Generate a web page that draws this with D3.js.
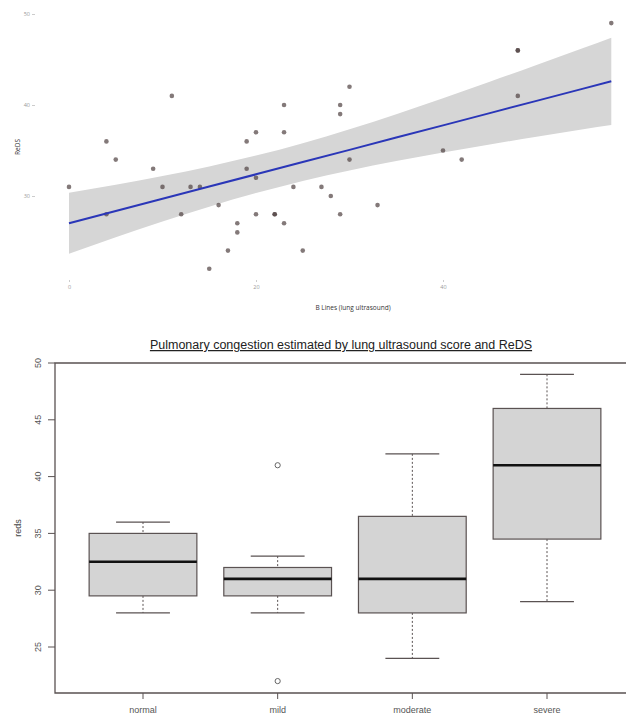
<!DOCTYPE html>
<html><head><meta charset="utf-8">
<script src="https://cdn.jsdelivr.net/npm/d3@7"></script>
<style>body{margin:0;background:#fff}svg{display:block}</style>
</head><body>
<svg id="c" width="626" height="717"></svg>
<script>
// ---- Scatter data (B lines vs ReDS) ----
const bLines = [0,4,5,4,9,11,10,12,13,14,16,15,17,18,18,19,19,20,20,20,22,22,23,23,23,24,25,27,28,29,29,29,30,30,33,40,42,48,48,48,58];
const reds   = [31,36,34,28,33,41,31,28,31,31,29,22,24,27,26,36,33,37,32,28,28,28,40,37,27,31,24,31,30,28,40,39,42,34,29,35,34,46,46,41,49];
// fitted line and 95% band
const fitX    = [0,5,10,15,20,25,30,35,40,45,50,55,58];
const fitY    = [27.0,28.35,29.69,31.04,32.38,33.73,35.07,36.42,37.76,39.11,40.45,41.8,42.6];
const bandLow = [23.65,25.46,27.19,28.83,30.32,31.66,32.81,33.85,34.78,35.67,36.51,37.33,37.8];
const bandHigh= [30.35,31.24,32.19,33.25,34.44,35.8,37.33,38.99,40.74,42.55,44.39,46.27,47.4];
const xTicksTop = [0,20,40];
const yTicksTop = [30,40,50];

// ---- Boxplot data ----
const categories = ["normal","mild","moderate","severe"];
const whiskLow  = [28,28,24,29];
const q1        = [29.5,29.5,28,34.5];
const median    = [32.5,31,31,41];
const q3        = [35,32,36.5,46];
const whiskHigh = [36,33,42,49];
const outliers  = [[],[41,22],[],[]];
const yTicksBox = [25,30,35,40,45,50];

const svg = d3.select("#c");

// ===== Top scatter =====
const xS = d3.scaleLinear().domain([0,40]).range([69,443]);
const yS = d3.scaleLinear().domain([30,50]).range([196,14]);
const gTop = svg.append("g");

const bandData = fitX.map((x,i)=>({x, lo:bandLow[i], hi:bandHigh[i], y:fitY[i]}));
gTop.append("path").datum(bandData)
  .attr("d", d3.area().x(d=>xS(d.x)).y0(d=>yS(d.lo)).y1(d=>yS(d.hi)).curve(d3.curveMonotoneX))
  .attr("fill","#d6d6d6");

gTop.selectAll("circle.pt").data(bLines.map((x,i)=>({x, y:reds[i]})))
  .enter().append("circle").attr("class","pt")
  .attr("cx",d=>xS(d.x)).attr("cy",d=>yS(d.y)).attr("r",2.3)
  .attr("fill","#4f4040").attr("opacity",0.7);

gTop.append("path").datum(bandData)
  .attr("d", d3.line().x(d=>xS(d.x)).y(d=>yS(d.y)))
  .attr("fill","none").attr("stroke","#2a36b8").attr("stroke-width",2);

// axes top
const xAxTop = d3.axisBottom(xS).tickValues(xTicksTop).tickSize(2).tickPadding(3);
gTop.append("g").attr("transform","translate(0,280)").call(xAxTop)
  .call(g=>g.select(".domain").remove())
  .call(g=>g.selectAll("text").attr("fill","#999").style("font","5.5px 'Open Sans'"))
  .call(g=>g.selectAll("line").attr("stroke","#ccc"));
const yAxTop = d3.axisLeft(yS).tickValues(yTicksTop).tickSize(3).tickPadding(2);
gTop.append("g").attr("transform","translate(35,0)").call(yAxTop)
  .call(g=>g.select(".domain").remove())
  .call(g=>g.selectAll("text").attr("fill","#999").style("font","5.5px 'Open Sans'"))
  .call(g=>g.selectAll("line").attr("stroke","#ccc"));

svg.append("text").attr("x",353).attr("y",310).attr("text-anchor","middle")
  .style("font","6.5px 'Open Sans'").attr("fill","#333").text("B Lines (lung ultrasound)");
svg.append("text").attr("transform","translate(20,147) rotate(-90)").attr("text-anchor","middle")
  .style("font","6.5px 'Open Sans'").attr("fill","#333").text("ReDS");

// ===== Boxplot =====
const xB = d3.scalePoint().domain(categories).range([143,547]);
const yB = d3.scaleLinear().domain([25,50]).range([647,363]);
const step = xB.step();
const boxW = 0.8*step, capW = 0.4*step;
const gB = svg.append("g");
const frame = "#5a5252";

categories.forEach((c,i)=>{
  const cx = xB(c);
  // whiskers
  gB.append("line").attr("x1",cx).attr("x2",cx).attr("y1",yB(whiskHigh[i])).attr("y2",yB(q3[i]))
    .attr("stroke",frame).attr("stroke-dasharray","2,2");
  gB.append("line").attr("x1",cx).attr("x2",cx).attr("y1",yB(q1[i])).attr("y2",yB(whiskLow[i]))
    .attr("stroke",frame).attr("stroke-dasharray","2,2");
  [whiskHigh[i], whiskLow[i]].forEach(v=>{
    gB.append("line").attr("x1",cx-capW/2).attr("x2",cx+capW/2).attr("y1",yB(v)).attr("y2",yB(v))
      .attr("stroke",frame).attr("stroke-width",1.3);
  });
  gB.append("rect").attr("x",cx-boxW/2).attr("y",yB(q3[i])).attr("width",boxW)
    .attr("height",yB(q1[i])-yB(q3[i])).attr("fill","#d4d4d4").attr("stroke",frame).attr("stroke-width",1.2);
  gB.append("line").attr("x1",cx-boxW/2).attr("x2",cx+boxW/2).attr("y1",yB(median[i])).attr("y2",yB(median[i]))
    .attr("stroke","#111").attr("stroke-width",2.6);
  outliers[i].forEach(v=>{
    gB.append("circle").attr("cx",cx).attr("cy",yB(v)).attr("r",2.6)
      .attr("fill","none").attr("stroke","#666").attr("stroke-width",1);
  });
});

// frame
gB.append("path").attr("d",`M626,363H55V693H626`).attr("fill","none").attr("stroke",frame).attr("stroke-width",1.3);

// y axis
yTicksBox.forEach(v=>{
  gB.append("line").attr("x1",48).attr("x2",55).attr("y1",yB(v)).attr("y2",yB(v)).attr("stroke",frame);
  gB.append("text").attr("transform",`translate(41,${yB(v)}) rotate(-90)`).attr("text-anchor","middle")
    .style("font","9px 'Liberation Sans'").attr("fill","#555").text(v);
});
// x axis
categories.forEach(c=>{
  gB.append("line").attr("x1",xB(c)).attr("x2",xB(c)).attr("y1",693).attr("y2",699).attr("stroke",frame);
  gB.append("text").attr("x",xB(c)).attr("y",713).attr("text-anchor","middle")
    .style("font","9px 'Liberation Sans'").attr("fill","#555").text(c);
});
svg.append("text").attr("transform","translate(21,528) rotate(-90)").attr("text-anchor","middle")
  .style("font","9px 'Liberation Sans'").attr("fill","#444").text("reds");

const title = svg.append("text").attr("x",341).attr("y",349).attr("text-anchor","middle")
  .style("font","12.5px 'Liberation Sans'").attr("fill","#222")
  .attr("text-decoration","underline")
  .text("Pulmonary congestion estimated by lung ultrasound score and ReDS");
</script>
</body></html>
